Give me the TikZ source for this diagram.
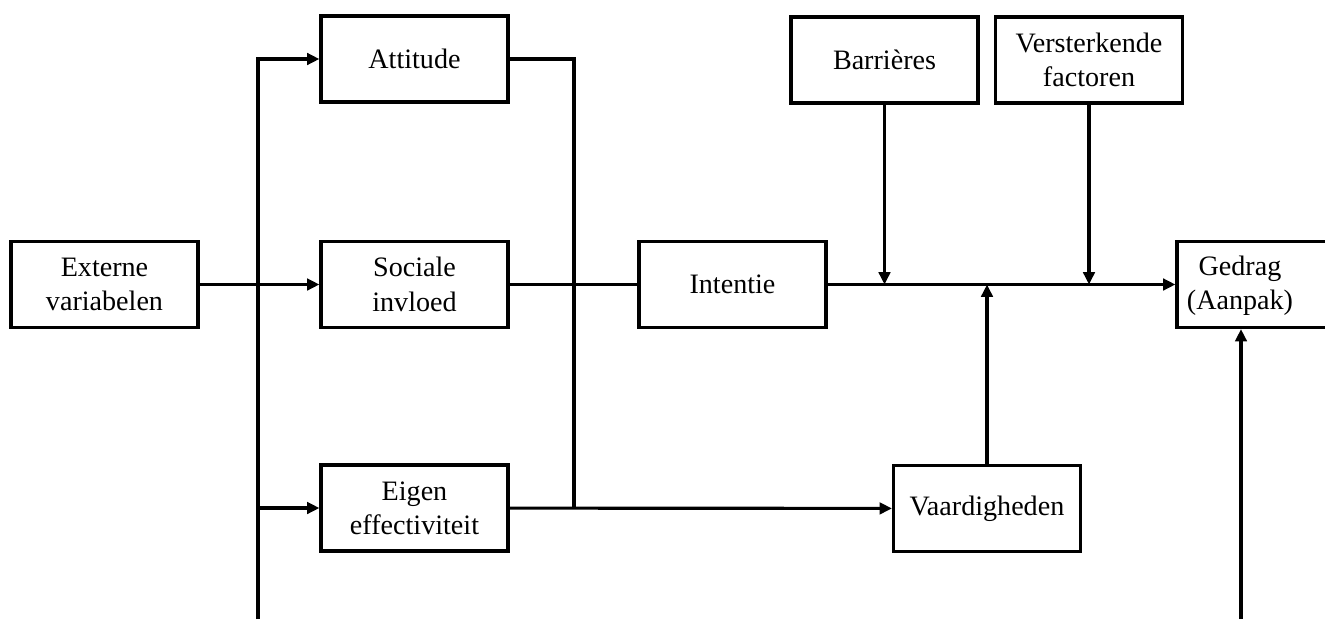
\documentclass[tikz,border=0pt]{standalone}
\usepackage{fontspec}
\setmainfont{Liberation Serif}
\usetikzlibrary{arrows.meta,positioning,calc}

\begin{document}
\begin{tikzpicture}[x=0.02cm, y=-0.02cm,
    every node/.style={font=\fontsize{16pt}{19.5pt}\selectfont, align=center},
    box/.style={draw, line width=1.8pt, minimum width=3.74cm, minimum height=1.72cm,
      inner sep=0pt},
    line/.style={line width=1.8pt},
    arr/.style={line width=1.8pt, -{Triangle[length=7pt, width=6.5pt]}}]
  \useasboundingbox (0,0) rectangle (1325,619);
  % Boxes
  \node (extern) [box] at (104.5,284.5) {Externe\\variabelen};
  \node (attitude) [box] at (414.5,59) {Attitude};
  \node (sociaal) [box] at (414.5,284.5) {Sociale\\invloed};
  \node (eigen) [box] at (414.5,508) {Eigen\\effectiviteit};
  \node (intentie) [box] at (732.5,284.5) {Intentie};
  \node (barrieres) [box] at (884.5,60) {Barrières};
  \node (versterk) [box] at (1089,60) {Versterkende\\factoren};
  \node (vaardig) [box] at (987,508.5) {Vaardigheden};
  \node (gedrag) [box] at (1270.5,284.5) {};
  \node (gedraglabel) at (1240,285.5) {Gedrag\\(Aanpak)};
  % Free ends
  \coordinate (busfoot) at (258,619);
  \coordinate (gedragfoot) at (1241,619);
  \coordinate (knot) at (574,508);
  % Draw arrows
  \draw[arr] (extern) -- (sociaal);
  \draw[arr] (busfoot) |- (attitude);
  \draw[arr] (busfoot |- eigen.west) -- (eigen);
  \draw[line] (attitude) -| (knot);
  \draw[arr] (eigen) -- (vaardig);
  \draw[line] (sociaal) -- (intentie);
  \draw[arr] (intentie) -- (gedrag);
  \draw[arr] (barrieres) -- (barrieres |- intentie.east);
  \draw[arr] (versterk) -- (versterk |- intentie.east);
  \draw[arr] (vaardig) -- (vaardig |- intentie.east);
  \draw[arr] (gedragfoot) -- (gedragfoot |- gedrag.south);
\end{tikzpicture}
\end{document}
